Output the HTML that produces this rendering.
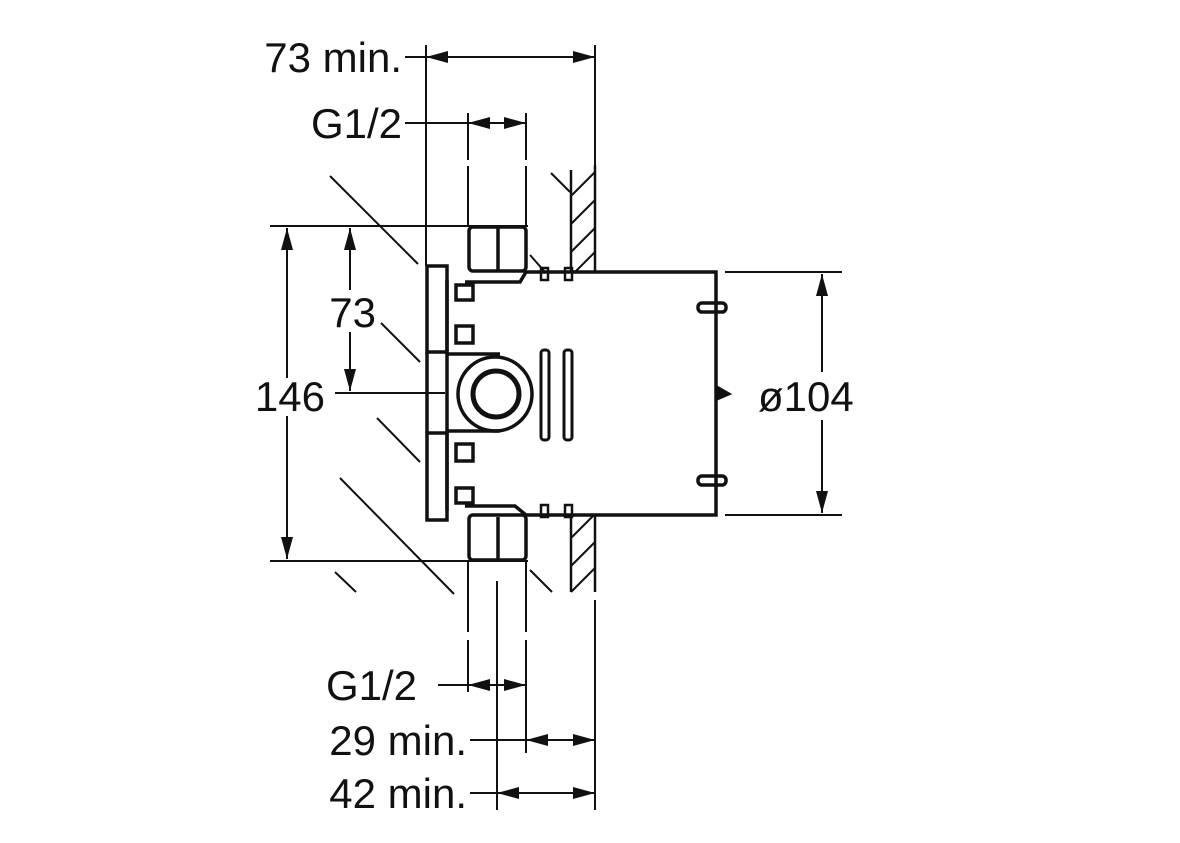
<!DOCTYPE html>
<html><head><style>html,body{margin:0;padding:0;background:#fff}svg{display:block}
text{font-family:"Liberation Sans",Arial,sans-serif;font-size:42px;fill:#111}</style></head>
<body>
<svg width="1180" height="843" viewBox="0 0 1180 843" xmlns="http://www.w3.org/2000/svg">
<defs>
<marker id="b" viewBox="0 0 22 12" refX="22" refY="6" markerWidth="22" markerHeight="12" markerUnits="userSpaceOnUse" orient="auto-start-reverse"><path d="M0,0 L22,6 L0,12 z" fill="#111"/></marker>
</defs>
<g stroke="#111" stroke-width="2" fill="none">
<line x1="426" y1="45" x2="426" y2="266"/>
<line x1="595" y1="45" x2="595" y2="165"/>
<line x1="405" y1="57" x2="426" y2="57"/>
<line x1="426" y1="57" x2="595" y2="57" marker-start="url(#b)" marker-end="url(#b)"/>
<line x1="405" y1="123" x2="468" y2="123"/>
<line x1="468" y1="123" x2="526" y2="123" marker-start="url(#b)" marker-end="url(#b)"/>
<line x1="468" y1="113" x2="468" y2="160"/><line x1="468" y1="166" x2="468" y2="226"/>
<line x1="526" y1="113" x2="526" y2="160"/><line x1="526" y1="166" x2="526" y2="226"/>
<line x1="270" y1="226" x2="528" y2="226"/>
<line x1="270" y1="561" x2="528" y2="561"/>
<line x1="287" y1="228" x2="287" y2="378" marker-start="url(#b)"/>
<line x1="287" y1="416" x2="287" y2="559" marker-end="url(#b)"/>
<line x1="350" y1="228" x2="350" y2="290" marker-start="url(#b)"/>
<line x1="350" y1="332" x2="350" y2="391" marker-end="url(#b)"/>
<line x1="335" y1="393" x2="445" y2="393"/>
<line x1="330" y1="176" x2="418" y2="264"/>
<line x1="381" y1="323" x2="420" y2="362"/>
<line x1="377" y1="418" x2="420" y2="462"/>
<line x1="340" y1="478" x2="454" y2="594"/>
<line x1="335" y1="572" x2="356" y2="592"/>
<line x1="530" y1="570" x2="552" y2="592"/>
<line x1="530" y1="255" x2="545" y2="272"/>
<line x1="551" y1="173" x2="570" y2="192"/>
<line x1="571" y1="170" x2="571" y2="272" stroke-width="2.5"/>
<line x1="595" y1="165" x2="595" y2="272" stroke-width="2.5"/>
<line x1="571" y1="515" x2="571" y2="592" stroke-width="2.5"/>
<line x1="595" y1="515" x2="595" y2="592" stroke-width="2.5"/>
<line x1="571" y1="196" x2="595" y2="172"/><line x1="571" y1="224" x2="595" y2="200"/>
<line x1="571" y1="252" x2="595" y2="228"/><line x1="575" y1="272" x2="595" y2="252"/>
<line x1="571" y1="538" x2="595" y2="514"/><line x1="571" y1="566" x2="595" y2="542"/>
<line x1="571" y1="592" x2="595" y2="568"/>
<g stroke-width="3.5">
<rect x="427" y="266" width="20" height="86"/>
<rect x="427" y="433" width="20" height="87"/>
<line x1="427" y1="352" x2="427" y2="433"/>
<path d="M447,354 L500,354 M447,431 L500,431"/>
<line x1="447" y1="280" x2="447" y2="510"/>
<path d="M465,282 L520,282 L526,272 L716,272 L716,515 L526,515 L515,506 L465,506"/>
<rect x="469" y="227" width="57" height="44" rx="4"/>
<line x1="498" y1="227" x2="498" y2="271"/>
<rect x="469" y="515" width="57" height="45" rx="4"/>
<line x1="498" y1="517" x2="498" y2="560"/>
<circle cx="495" cy="394" r="37"/>
<circle cx="496" cy="394" r="23" stroke-width="5"/>
<rect x="456" y="326" width="17" height="17"/>
<rect x="456" y="444" width="17" height="17"/>
<rect x="456" y="285" width="17" height="15"/>
<rect x="456" y="488" width="17" height="15"/>
<rect x="541" y="350" width="8" height="90" rx="3" stroke-width="3"/>
<rect x="564" y="350" width="8" height="90" rx="3" stroke-width="3"/>
<rect x="541" y="268" width="7" height="12" stroke-width="2.5"/>
<rect x="565" y="268" width="7" height="12" stroke-width="2.5"/>
<rect x="541" y="505" width="7" height="12" stroke-width="2.5"/>
<rect x="565" y="505" width="7" height="12" stroke-width="2.5"/>
<rect x="698" y="303" width="28" height="9" rx="4"/>
<rect x="698" y="476" width="28" height="9" rx="4"/>
</g>
<path d="M716,386 L730,394 L716,400 z" fill="#111"/>
<line x1="725" y1="272" x2="842" y2="272"/>
<line x1="725" y1="515" x2="842" y2="515"/>
<line x1="822" y1="274" x2="822" y2="372" marker-start="url(#b)"/>
<line x1="822" y1="420" x2="822" y2="513" marker-end="url(#b)"/>
<line x1="468" y1="561" x2="468" y2="632"/><line x1="468" y1="640" x2="468" y2="692"/>
<line x1="526" y1="561" x2="526" y2="632"/><line x1="526" y1="640" x2="526" y2="753"/>
<line x1="497" y1="581" x2="497" y2="810"/>
<line x1="595" y1="600" x2="595" y2="810"/>
<line x1="438" y1="685" x2="468" y2="685"/>
<line x1="468" y1="685" x2="526" y2="685" marker-start="url(#b)" marker-end="url(#b)"/>
<line x1="470" y1="740" x2="526" y2="740"/>
<line x1="526" y1="740" x2="595" y2="740" marker-start="url(#b)" marker-end="url(#b)"/>
<line x1="470" y1="793" x2="497" y2="793"/>
<line x1="497" y1="793" x2="595" y2="793" marker-start="url(#b)" marker-end="url(#b)"/>
</g>
<text x="402" y="72" text-anchor="end">73 min.</text>
<text x="402" y="138" text-anchor="end">G1/2</text>
<text x="376" y="327" text-anchor="end">73</text>
<text x="325" y="411" text-anchor="end">146</text>
<text x="758" y="411">ø104</text>
<text x="417" y="700" text-anchor="end">G1/2</text>
<text x="467" y="755" text-anchor="end">29 min.</text>
<text x="467" y="808" text-anchor="end">42 min.</text>
</svg>
</body></html>
